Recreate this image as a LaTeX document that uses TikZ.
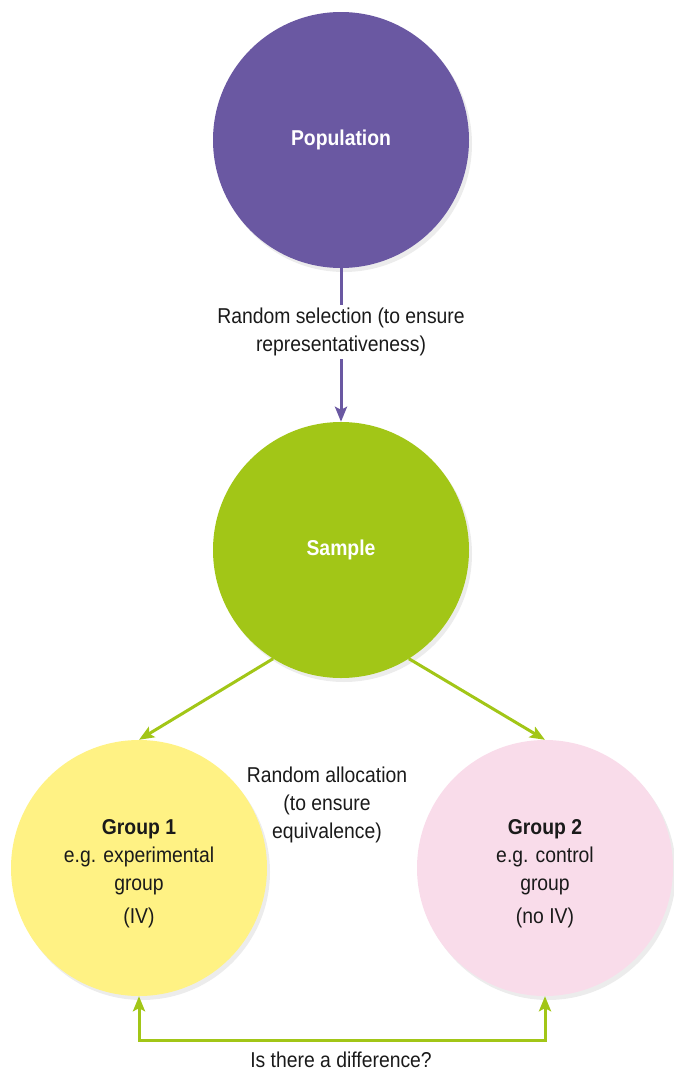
\documentclass[tikz,border=0pt]{standalone}
\usepackage{fontspec}
\setmainfont{Liberation Sans}[FakeStretch=0.9]
\usetikzlibrary{arrows.meta, positioning, shadows}
\definecolor{popcol}{RGB}{106,88,162}
\definecolor{samplecol}{RGB}{162,198,23}
\definecolor{groupone}{RGB}{255,242,132}
\definecolor{grouptwo}{RGB}{249,220,234}
\definecolor{txtcol}{RGB}{26,26,26}

\begin{document}
\begin{tikzpicture}[
    x=1pt, y=-1pt,
    font=\fontsize{21.5}{28}\selectfont,
    bigcircle/.style={circle, minimum size=256pt, inner sep=0pt, align=center,
      drop shadow={opacity=0.15, shadow xshift=3pt, shadow yshift=-4pt}},
    grouptext/.style={align=center, text=txtcol, inner sep=0pt},
    note/.style={align=center, text=txtcol, inner sep=3pt},
    parrow/.style={draw=popcol, line width=3pt, -{Stealth[length=15pt, width=12pt, inset=3pt]}},
    pline/.style={draw=popcol, line width=3pt},
    garrow/.style={draw=samplecol, line width=3pt, -{Stealth[length=15pt, width=12pt, inset=3pt]}}
]
    \useasboundingbox (0,0) rectangle (673,1071);

    % Circles
    \node[bigcircle, fill=popcol, text=white] (pop) at (341,140) {\bfseries Population};
    \node[bigcircle, fill=samplecol, text=white] (sample) at (341,550) {\bfseries Sample};
    \node[bigcircle, fill=groupone] (g1) at (139,868) {};
    \node[bigcircle, fill=grouptwo] (g2) at (545,868) {};
    \node[grouptext] (g1txt) at (139,874)
      {\bfseries Group 1\\e.g. experimental\\group\\[5pt](IV)};
    \node[grouptext] (g2txt) at (545,874)
      {\bfseries Group 2\\e.g. control\\group\\[5pt](no IV)};

    % Labels
    \node[note] (sel) at (341,332) {Random selection (to ensure\\representativeness)};
    \node[note] (alloc) at (327,805) {Random allocation\\(to ensure\\equivalence)};
    \node[note] (diff) at (341,1060) {Is there a difference?};
    \coordinate (bend) at (341,1040);

    % Arrows
    \draw[pline] (pop) -- (sel);
    \draw[parrow] (sel) -- (sample);
    \draw[garrow] (sample.238) -- (g1.north);
    \draw[garrow] (sample.302) -- (g2.north);
    \draw[garrow, {Stealth[length=15pt, width=12pt, inset=3pt]}-{Stealth[length=15pt, width=12pt, inset=3pt]}]
      (g1.south) |- (bend) -| (g2.south);

\end{tikzpicture}
\end{document}
